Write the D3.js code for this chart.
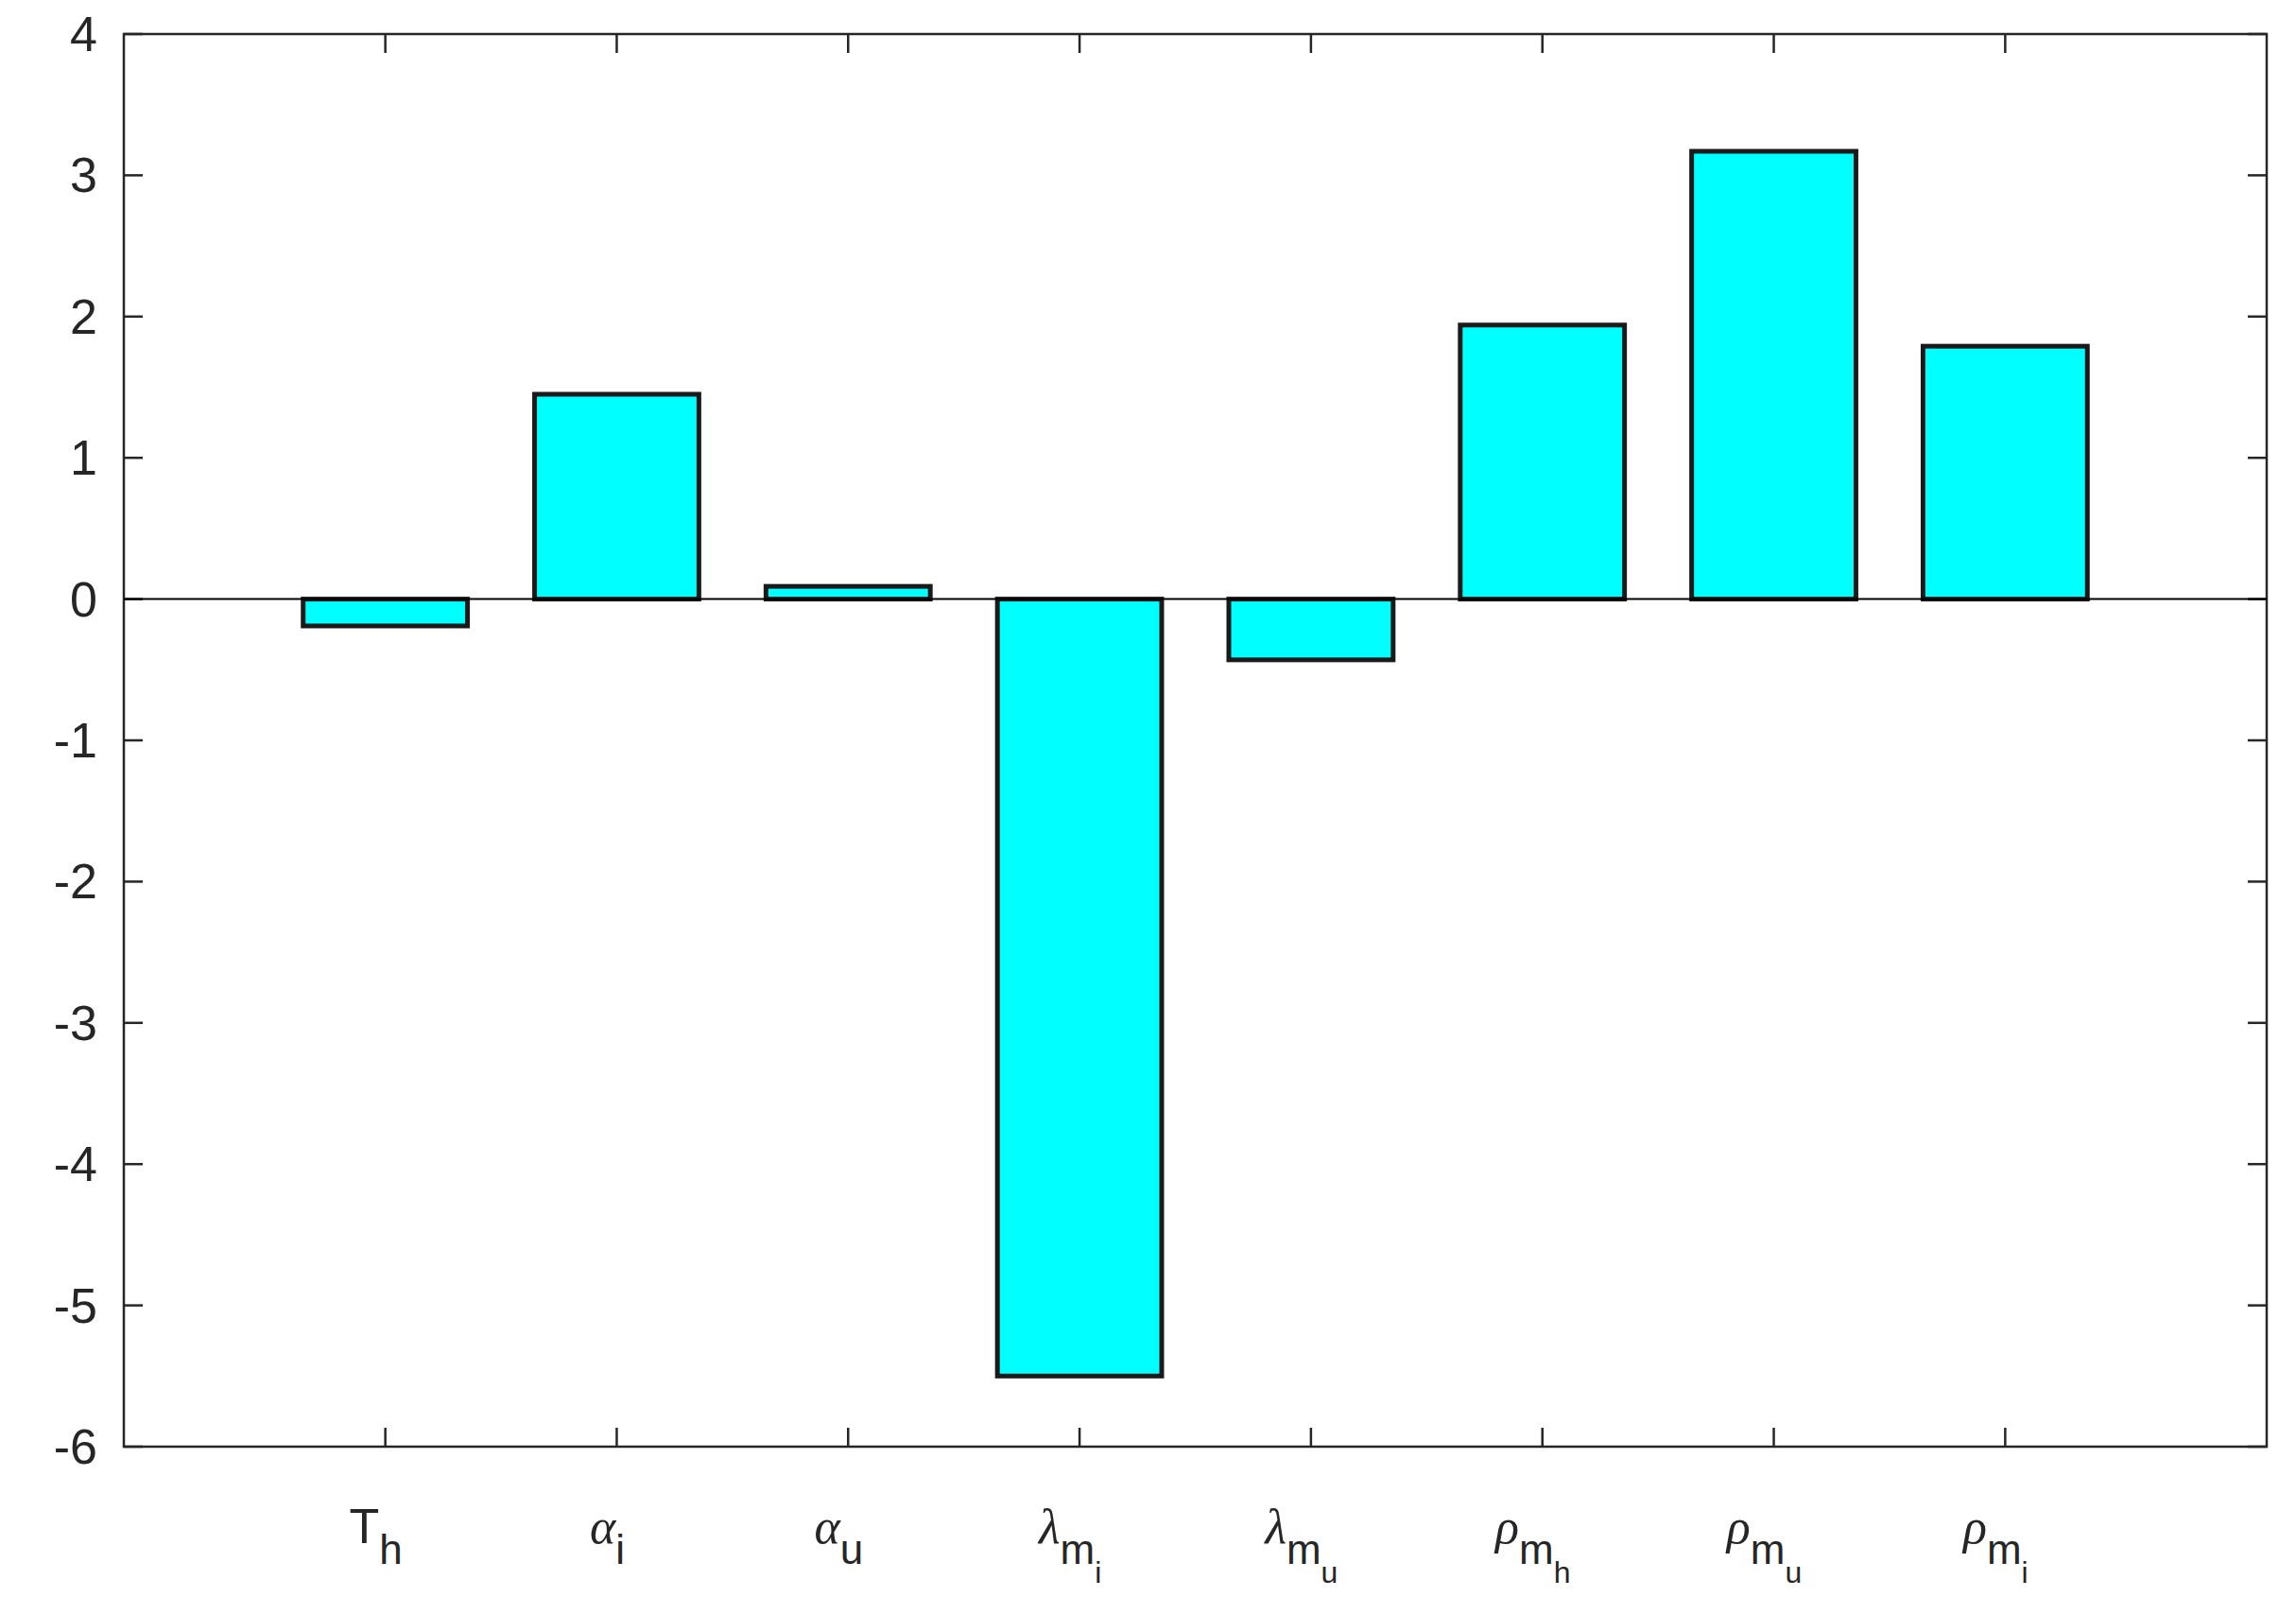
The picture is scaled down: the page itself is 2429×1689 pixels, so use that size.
<!DOCTYPE html>
<html>
<head>
<meta charset="utf-8">
<script src="https://cdn.jsdelivr.net/npm/d3@7"></script>
<style>
  body { margin: 0; background: #fff; }
  text { fill: #262626; }
</style>
</head>
<body>
<svg id="chart" width="2429" height="1689"></svg>
<script>
// data
var mainSym = ['T', 'α', 'α', 'λ', 'λ', 'ρ', 'ρ', 'ρ'];
var subSym  = ['h', 'i', 'u', 'm', 'm', 'm', 'm', 'm'];
var subSub  = ['',  '',  '',  'i', 'u', 'h', 'u', 'i'];
var values  = [-0.19, 1.45, 0.09, -5.5, -0.43, 1.94, 3.17, 1.79];
var yTicks  = [-6, -5, -4, -3, -2, -1, 0, 1, 2, 3, 4];

var L = 131, R = 2398, T = 36, B = 1530;
var svg = d3.select('#chart');
var idx = d3.range(values.length);

var x = d3.scalePoint().domain(idx).range([L, R]).padding(1.13);
var y = d3.scaleLinear().domain([-6, 4]).range([B, T]);
var barW = x.step() * 0.71;

// frame
svg.append('rect').attr('x', L).attr('y', T).attr('width', R - L).attr('height', B - T)
  .attr('fill', 'none').attr('stroke', '#262626').attr('stroke-width', 2.5);

// y ticks, inward on both sides
var tk = 20;
yTicks.forEach(function(v) {
  svg.append('line').attr('x1', L).attr('x2', L + tk).attr('y1', y(v)).attr('y2', y(v))
    .attr('stroke', '#262626').attr('stroke-width', 2.5);
  svg.append('line').attr('x1', R).attr('x2', R - tk).attr('y1', y(v)).attr('y2', y(v))
    .attr('stroke', '#262626').attr('stroke-width', 2.5);
  svg.append('text').attr('x', L - 28).attr('y', y(v) + 18)
    .attr('text-anchor', 'end')
    .style('font-family', '"Liberation Sans Narrow", "Liberation Sans", Arial, sans-serif')
    .style('font-size', '52px')
    .text(v);
});

// x ticks, inward top and bottom
idx.forEach(function(i) {
  svg.append('line').attr('x1', x(i)).attr('x2', x(i)).attr('y1', B).attr('y2', B - tk)
    .attr('stroke', '#262626').attr('stroke-width', 2.5);
  svg.append('line').attr('x1', x(i)).attr('x2', x(i)).attr('y1', T).attr('y2', T + tk)
    .attr('stroke', '#262626').attr('stroke-width', 2.5);
});

// bars
svg.selectAll('rect.bar').data(values).enter().append('rect')
  .attr('class', 'bar')
  .attr('x', function(d, i) { return x(i) - barW / 2; })
  .attr('y', function(d) { return y(Math.max(0, d)); })
  .attr('width', barW)
  .attr('height', function(d) { return Math.abs(y(d) - y(0)); })
  .attr('fill', '#00ffff').attr('stroke', '#1a1a1a').attr('stroke-width', 5);

// zero line
svg.append('line').attr('x1', L).attr('x2', R).attr('y1', y(0)).attr('y2', y(0))
  .attr('stroke', '#000').attr('stroke-width', 2);

// category labels with subscripts
idx.forEach(function(i) {
  var greek = mainSym[i] !== 'T';
  var t = svg.append('text').attr('x', x(i) - 10).attr('y', 1632)
    .attr('text-anchor', 'middle')
    .style('font-family', '"Liberation Sans Narrow", "Liberation Sans", Arial, sans-serif')
    .style('font-size', '52px');
  t.append('tspan').text(mainSym[i])
    .style('font-family', greek ? '"Liberation Serif", "Times New Roman", serif' : null)
    .style('font-style', greek ? 'italic' : null);
  t.append('tspan').attr('dy', 22).style('font-size', '44px').text(subSym[i]);
  if (subSub[i]) t.append('tspan').attr('dy', 20).style('font-size', '32px').text(subSub[i]);
});
</script>
</body>
</html>
